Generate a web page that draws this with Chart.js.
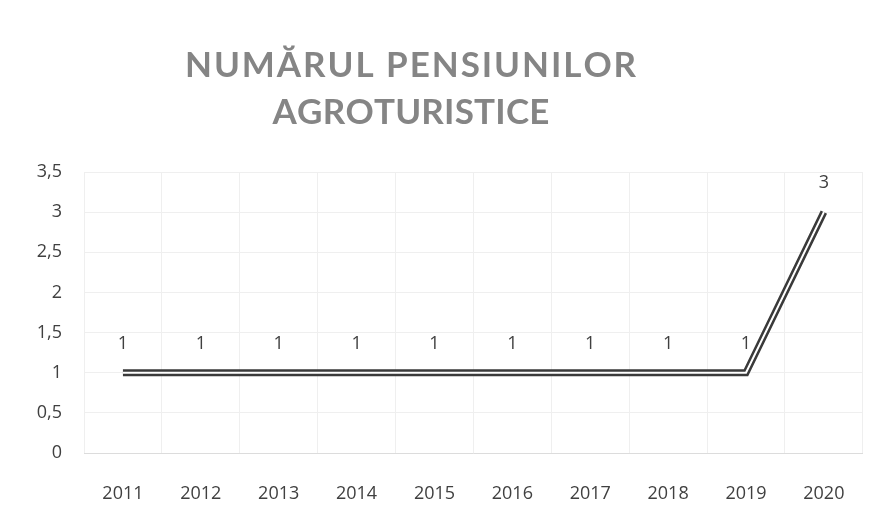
<!DOCTYPE html>
<html>
<head>
<meta charset="utf-8">
<script src="https://cdn.jsdelivr.net/npm/chart.js@4.4.1/dist/chart.umd.min.js"></script>
<style>
  html, body { margin: 0; padding: 0; background: #fff; }
  #wrap { width: 875px; height: 522px; }
</style>
</head>
<body>
<div id="wrap"><canvas id="myChart" width="875" height="522"></canvas></div>
<script>
var years = ["2011", "2012", "2013", "2014", "2015", "2016", "2017", "2018", "2019", "2020"];
var pensiuni = [1, 1, 1, 1, 1, 1, 1, 1, 1, 3];
var titleLines = ["NUMĂRUL PENSIUNILOR", "AGROTURISTICE"];

// title drawn by hand so the letters can be spaced out like the original
var titlePlugin = {
    id: 'spacedTitle',
    afterDraw: function (chart) {
        var ctx = chart.ctx;
        ctx.save();
        ctx.font = "bold 35px Lato, 'Open Sans', sans-serif";
        ctx.fillStyle = "#858585";
        ctx.textBaseline = "middle";
        ctx.textAlign = "left";
        var targets = [450, 275];
        var ys = [66, 113];
        for (var i = 0; i < titleLines.length; i++) {
            var txt = titleLines[i];
            var w = ctx.measureText(txt).width;
            var gap = (targets[i] - w) / (txt.length - 1);
            var x = 410 - targets[i] / 2;
            for (var j = 0; j < txt.length; j++) {
                ctx.fillText(txt[j], x, ys[i]);
                x += ctx.measureText(txt[j]).width + gap;
            }
        }
        ctx.restore();
    }
};

// value labels above each point
var labelPlugin = {
    id: 'pointLabels',
    afterDatasetsDraw: function (chart) {
        var ctx = chart.ctx;
        var meta = chart.getDatasetMeta(0);
        ctx.save();
        ctx.font = "18px 'Open Sans', sans-serif";
        ctx.fillStyle = "#404040";
        ctx.textAlign = "center";
        ctx.textBaseline = "middle";
        meta.data.forEach(function (pt, i) {
            ctx.fillText(String(pensiuni[i]), pt.x, pt.y - 29);
        });
        ctx.restore();
    }
};

function makeChart() {
    var ctx = document.getElementById("myChart");
    var myChart = new Chart(ctx, {
        type: 'line',
        data: {
            labels: years,
            datasets: [{
                data: pensiuni,
                borderColor: '#ffffff',
                borderWidth: 2,
                pointRadius: 0,
                fill: false,
                order: 0
            },
                {
                    data: pensiuni,
                    borderColor: '#3a3a3a',
                    borderWidth: 7,
                    pointRadius: 0,
                    fill: false,
                    order: 1
                }]
        },
        options: {
            responsive: false,
            animation: false,
            layout: { padding: { top: 172, right: 11, left: 0, bottom: 0 } },
            plugins: {
                legend: { display: false },
                tooltip: { enabled: false }
            },
            scales: {
                x: {
                    offset: true,
                    grid: { offset: true, color: '#efefef', drawTicks: false },
                    border: { color: '#dcdcdc' },
                    ticks: {
                        padding: 30,
                        color: '#404040',
                        font: { size: 18, family: "'Open Sans', sans-serif" }
                    },
                    afterFit: function (scale) { scale.height = 69; }
                },
                y: {
                    min: 0,
                    max: 3.5,
                    grid: { color: '#efefef', drawTicks: false },
                    border: { display: false },
                    ticks: {
                        stepSize: 0.5,
                        padding: 22,
                        color: '#404040',
                        font: { size: 18, family: "'Open Sans', sans-serif" },
                        callback: function (v) { return String(v).replace('.', ','); }
                    },
                    afterFit: function (scale) { scale.width = 84; }
                }
            }
        },
        plugins: [titlePlugin, labelPlugin]
    });
}

makeChart();
</script>
</body>
</html>
